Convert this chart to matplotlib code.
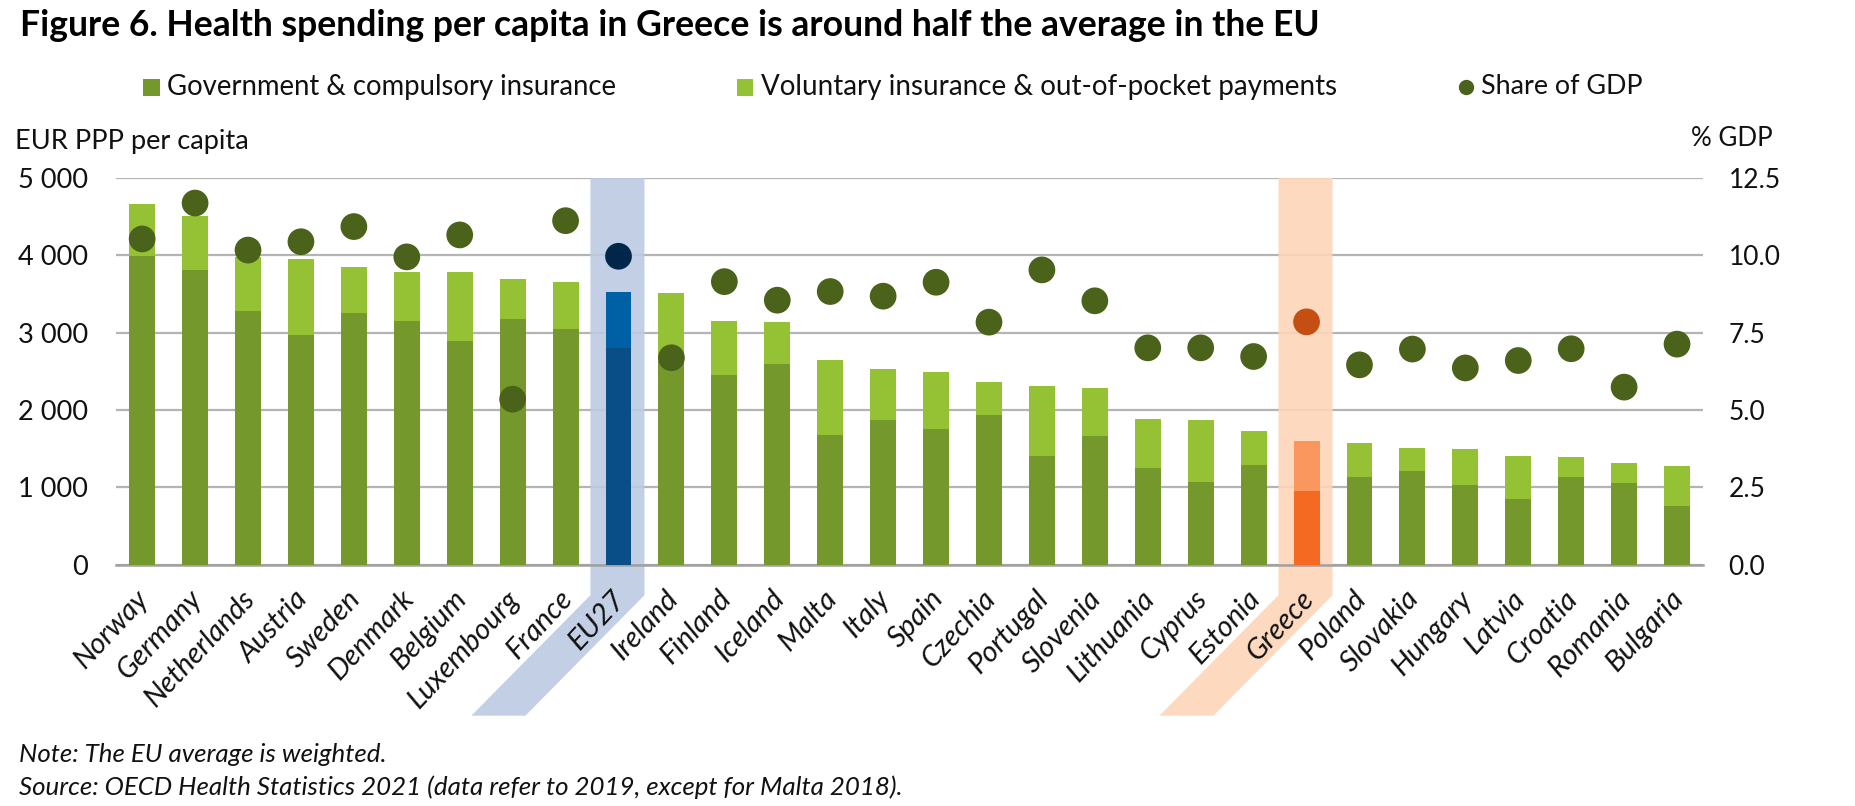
import matplotlib
matplotlib.use('Agg')
import matplotlib.pyplot as plt
import matplotlib.ticker as ticker
from matplotlib.patches import Polygon, Rectangle
from matplotlib.lines import Line2D

plt.rcParams['font.family'] = ['Lato', 'DejaVu Sans']

countries = ['Norway', 'Germany', 'Netherlands', 'Austria', 'Sweden', 'Denmark',
             'Belgium', 'Luxembourg', 'France', 'EU27', 'Ireland', 'Finland',
             'Iceland', 'Malta', 'Italy', 'Spain', 'Czechia', 'Portugal',
             'Slovenia', 'Lithuania', 'Cyprus', 'Estonia', 'Greece', 'Poland',
             'Slovakia', 'Hungary', 'Latvia', 'Croatia', 'Romania', 'Bulgaria']
government = [3995, 3813, 3281, 2970, 3260, 3156, 2892, 3182, 3052, 2806,
              2633, 2451, 2594, 1673, 1868, 1751, 1933, 1409, 1664, 1249,
              1064, 1284, 947, 1128, 1206, 1025, 852, 1137, 1055, 765]
total = [4665, 4509, 3973, 3947, 3843, 3787, 3779, 3692, 3649, 3524,
         3515, 3156, 3139, 2646, 2525, 2486, 2365, 2317, 2283, 1885,
         1876, 1734, 1600, 1578, 1509, 1496, 1405, 1392, 1310, 1271]
gdp_share = [10.53, 11.69, 10.17, 10.44, 10.93, 9.95, 10.66, 5.35, 11.12, 9.97,
             6.69, 9.15, 8.55, 8.83, 8.68, 9.13, 7.84, 9.53, 8.53, 7.01,
             7.01, 6.73, 7.85, 6.46, 6.97, 6.36, 6.60, 6.98, 5.74, 7.13]
left_ticks = [0, 1000, 2000, 3000, 4000, 5000]
right_ticks = [0.0, 2.5, 5.0, 7.5, 10.0, 12.5]

W, H = 1856, 806
TEXT = '#111111'
GOV, VOL, DOT = '#74982C', '#95C235', '#4B621A'
# special colours for the highlighted bars: government, voluntary, dot, band
special = {'EU27': ('#0A4E87', '#0060A6', '#00274A', '#BCCAE2'),
           'Greece': ('#F46A22', '#F9975F', '#C54E12', '#FDD5B9')}


def px(x, y):
    return x / W, 1 - y / H


voluntary = [t - g for t, g in zip(total, government)]
xs = list(range(len(countries)))
gov_colors = [special[c][0] if c in special else GOV for c in countries]
vol_colors = [special[c][1] if c in special else VOL for c in countries]
dot_colors = [special[c][2] if c in special else DOT for c in countries]

fig = plt.figure(figsize=(W / 100, H / 100), dpi=100)
ax = fig.add_axes([115.7 / W, 1 - 564.7 / H, (1703.5 - 115.7) / W, (564.7 - 178) / H])
ax.set_xlim(-0.5, len(countries) - 0.5)
ax.set_ylim(0, 5000)
ax.set_axisbelow(True)
ax.yaxis.grid(True, color='#B4B4B4', linewidth=1.6, zorder=0)
for side in ['top', 'left', 'right']:
    ax.spines[side].set_visible(False)
ax.spines['bottom'].set_color('#A0A0A0')
ax.spines['bottom'].set_linewidth(1.8)

# highlight bands, straight down the column and then slanted under the labels
trans = ax.get_xaxis_transform()
for name in special:
    i = countries.index(name) - 0.02
    half = 0.51
    knee = -30.5 / 386.7
    foot = -151 / 386.7
    slant = 2.25
    band = Polygon([(i - half, 1), (i + half, 1), (i + half, knee),
                    (i + half - slant, foot), (i - half - slant, foot),
                    (i - half, knee)],
                   closed=True, transform=trans, facecolor=special[name][3],
                   edgecolor='none', alpha=0.9, clip_on=False, zorder=1.5)
    ax.add_patch(band)

ax.bar(xs, government, width=0.49, color=gov_colors, zorder=3)
ax.bar(xs, voluntary, width=0.49, bottom=government, color=vol_colors, zorder=3)

ax.set_yticks(left_ticks)
ax.yaxis.set_major_formatter(ticker.FuncFormatter(lambda v, p: f'{int(v):,}'.replace(',', ' ')))
ax.tick_params(axis='y', length=0, pad=20, labelsize=19.5, labelcolor=TEXT)
ax.set_xticks(xs)
ax.set_xticklabels([])
ax.tick_params(axis='x', length=0)

for i, name in enumerate(countries):
    ax.annotate(name, (i, 0), xytext=(-5, -15), textcoords='offset points',
                rotation=47, rotation_mode='anchor', ha='right', va='top',
                fontsize=21, style='italic', color=TEXT, zorder=5,
                annotation_clip=False)

ax2 = ax.twinx()
ax2.set_ylim(0, 12.5)
ax2.set_yticks(right_ticks)
ax2.set_yticklabels([f'{v:.1f}' for v in right_ticks])
ax2.tick_params(axis='y', length=0, pad=18, labelsize=19, labelcolor=TEXT)
for side in ax2.spines:
    ax2.spines[side].set_visible(False)
ax2.scatter(xs, gdp_share, s=370, c=dot_colors, linewidths=0, zorder=4)

x, y = px(20, 26)
fig.text(x, y, 'Figure 6. Health spending per capita in Greece is around half the average in the EU',
         fontsize=25.6, fontweight='bold', color='black', va='center')

# legend
fig.add_artist(Rectangle(px(143, 96), 17 / W, 17 / H, transform=fig.transFigure,
                         facecolor=GOV, edgecolor='none'))
x, y = px(167, 87)
fig.text(x, y, 'Government & compulsory insurance', fontsize=19.8, color=TEXT, va='center')
fig.add_artist(Rectangle(px(737, 96), 16 / W, 17 / H, transform=fig.transFigure,
                         facecolor=VOL, edgecolor='none'))
x, y = px(761, 87)
fig.text(x, y, 'Voluntary insurance & out-of-pocket payments', fontsize=20, color=TEXT, va='center')
x, y = px(1466, 87)
fig.add_artist(Line2D([x], [y], marker='o', markersize=10, color=DOT, linewidth=0,
                      transform=fig.transFigure))
x, y = px(1481, 87)
fig.text(x, y, 'Share of GDP', fontsize=19.4, color=TEXT, va='center')

x, y = px(15, 141)
fig.text(x, y, 'EUR PPP per capita', fontsize=19.6, color=TEXT, va='center')
x, y = px(1691, 139)
fig.text(x, y, '% GDP', fontsize=18.7, color=TEXT, va='center')

x, y = px(19, 755)
fig.text(x, y, 'Note: The EU average is weighted.', fontsize=18.6, style='italic', color=TEXT, va='center')
x, y = px(19, 787)
fig.text(x, y, 'Source: OECD Health Statistics 2021 (data refer to 2019, except for Malta 2018).',
         fontsize=18.6, style='italic', color=TEXT, va='center')

fig.savefig('out.png', dpi=100, facecolor='white')
